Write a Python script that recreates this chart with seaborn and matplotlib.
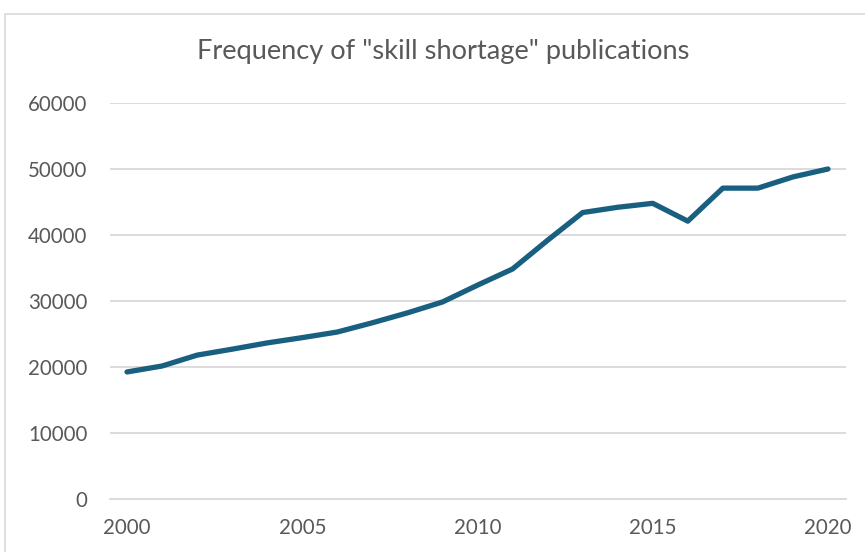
import matplotlib
matplotlib.use("Agg")
import matplotlib.pyplot as plt
import seaborn as sns
import pandas as pd
from matplotlib.patches import Rectangle

years = list(range(2000, 2021))
publications = [19250, 20150, 21800, 22700, 23650, 24450, 25300, 26700, 28200, 29850,
                32400, 34850, 39200, 43400, 44200, 44800, 42100, 47100, 47100, 48800, 50000]
y_ticks = [0, 10000, 20000, 30000, 40000, 50000, 60000]
x_ticks = [2000, 2005, 2010, 2015, 2020]
title = 'Frequency of "skill shortage" publications'

df = pd.DataFrame({"year": years, "count": publications})

sns.set_theme(style="white")
plt.rcParams['font.family'] = ['Lato', 'DejaVu Sans']

fig = plt.figure(figsize=(8.65, 5.52), dpi=100)
ax = fig.add_axes([109.5 / 865, 1 - 499 / 552, (845.5 - 109.5) / 865, (499 - 103) / 552])

sns.lineplot(data=df, x="year", y="count", ax=ax, color="#185f80", linewidth=3.8,
             solid_capstyle="round", solid_joinstyle="round")

ax.set_xlim(1999.5, 2020.5)
ax.set_ylim(0, 60000)
ax.set_yticks(y_ticks)
ax.set_yticklabels([str(v) for v in y_ticks])
ax.set_xticks(x_ticks)
ax.set_xticklabels([str(v) for v in x_ticks])
ax.yaxis.grid(True, color="#d9d9d9", linewidth=1.3)
ax.xaxis.grid(False)
for s in ["top", "right", "left"]:
    ax.spines[s].set_visible(False)
ax.spines["bottom"].set_color("#d9d9d9")
ax.spines["bottom"].set_linewidth(1.3)
ax.tick_params(axis="both", length=0, labelsize=14.8, colors="#595959")
ax.tick_params(axis="y", pad=16)
ax.tick_params(axis="x", pad=14)
ax.set_xlabel("")
ax.set_ylabel("")

fig.text(443 / 865, 1 - 52 / 552, title, ha="center", va="center", fontsize=19.6,
         color="#595959")

fig.patches.append(Rectangle((5 / 865, -0.01), 1.0, 1 - 14 / 552 + 0.01, transform=fig.transFigure,
                             fill=False, edgecolor="#d9d9d9", linewidth=1.2))

fig.savefig("out.png", dpi=100, facecolor="white")
